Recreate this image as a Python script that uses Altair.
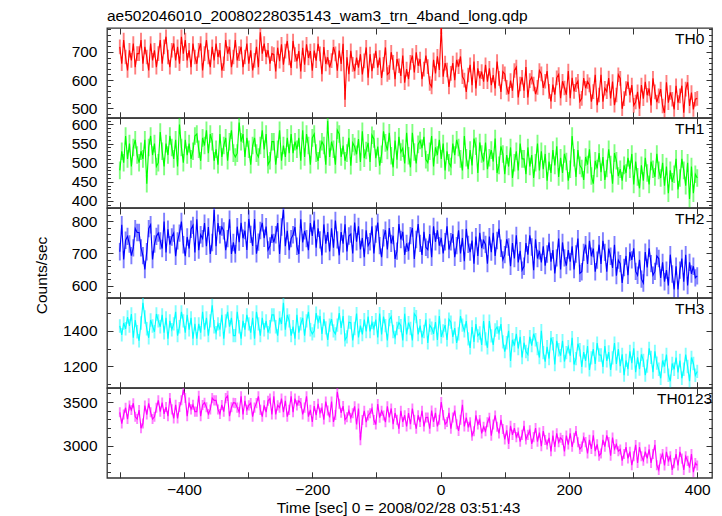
import altair as alt
import pandas as pd

title_text = "ae502046010_20080228035143_wam3_trn_4band_long.qdp"
x_title = "Time [sec] 0 = 2008/02/28 03:51:43"
y_title = "Counts/sec"
panel_names = ["TH0", "TH1", "TH2", "TH3", "TH0123"]
colors = ["#ff0000", "#00ff00", "#0000ff", "#00ffff", "#ff00ff"]
t_start = -500
t_step = 3
errors = [26, 23, 27, 38, 58]
x_domain = [-520, 423]
x_ticks = [-500, -400, -300, -200, -100, 0, 100, 200, 300, 400]
y_domains = [[466, 785], [382, 617], [562, 841], [1077, 1587], [2628, 3663]]
y_major = [[500, 600, 700], [400, 450, 500, 550, 600], [600, 700, 800], [1200, 1400], [3000, 3500]]
y_minor = [
    [480, 520, 540, 560, 580, 620, 640, 660, 680, 720, 740, 760, 780],
    [390, 410, 420, 430, 440, 460, 470, 480, 490, 510, 520, 530, 540, 560, 570, 580, 590, 610],
    [580, 620, 640, 660, 680, 720, 740, 760, 780, 820, 840],
    [1100, 1300, 1500],
    [2700, 2800, 2900, 3100, 3200, 3300, 3400, 3600],
]

th0 = [
    718, 658, 742, 682, 634, 706, 670, 730, 646, 694, 694, 742, 658, 718, 682, 634, 730, 670, 706, 646,
    694, 742, 658, 718, 754, 682, 646, 706, 730, 670, 718, 658, 754, 694, 742, 670, 706, 646, 730, 682,
    658, 706, 730, 634, 694, 742, 682, 646, 718, 670, 730, 682, 706, 634, 658, 742, 694, 718, 646, 682,
    742, 670, 694, 718, 646, 682, 730, 658, 706, 634, 670, 718, 646, 770, 694, 730, 682, 706, 658, 694,
    691, 631, 715, 667, 727, 655, 703, 739, 679, 643, 739, 691, 667, 703, 631, 715, 655, 727, 679, 703,
    633, 705, 669, 729, 693, 621, 717, 657, 681, 645, 669, 717, 693, 633, 705, 657, 729, 530, 681, 621,
    704, 656, 632, 680, 644, 692, 620, 668, 716, 608, 692, 632, 668, 704, 644, 680, 608, 656, 716, 620,
    627, 699, 663, 603, 675, 651, 615, 687, 591, 639, 603, 663, 687, 627, 699, 651, 675, 603, 639, 687,
    648, 588, 576, 672, 624, 684, 636, 790, 612, 660, 636, 576, 624, 660, 600, 672, 648, 684, 612, 600,
    558, 618, 654, 582, 666, 570, 642, 606, 630, 594, 654, 594, 642, 582, 618, 570, 666, 606, 558, 630,
    622, 574, 550, 598, 562, 634, 646, 538, 586, 610, 562, 646, 538, 598, 610, 586, 550, 574, 634, 622,
    572, 596, 632, 560, 524, 584, 548, 608, 620, 536, 596, 572, 548, 632, 536, 608, 560, 584, 596, 524,
    535, 607, 571, 595, 583, 523, 559, 619, 511, 547, 619, 523, 571, 559, 607, 535, 595, 511, 547, 619,
    606, 498, 534, 570, 594, 546, 582, 510, 522, 558, 498, 582, 534, 594, 546, 570, 510, 606, 558, 522,
    544, 568, 508, 484, 592, 520, 556, 532, 496, 580, 520, 544, 580, 484, 568, 592, 508, 556, 496, 532,
    535,
]

th1 = [
    480, 530, 500, 570, 510, 550, 490, 540, 560, 520, 500, 530, 510, 560, 445, 540, 570, 520, 550, 490,
    500, 580, 530, 490, 550, 520, 570, 540, 510, 560, 490, 600, 540, 500, 560, 520, 550, 510, 530, 570,
    575, 535, 505, 565, 545, 585, 525, 575, 555, 505, 535, 495, 575, 515, 545, 565, 505, 555, 585, 525,
    515, 525, 605, 555, 575, 515, 565, 535, 495, 545, 565, 525, 515, 545, 585, 535, 575, 495, 505, 555,
    555, 495, 535, 585, 505, 545, 515, 565, 525, 575, 525, 555, 535, 565, 505, 585, 515, 575, 545, 495,
    565, 575, 525, 505, 535, 555, 545, 495, 610, 515, 555, 535, 495, 585, 575, 515, 545, 505, 525, 565,
    492, 552, 542, 522, 562, 502, 582, 512, 532, 552, 502, 572, 562, 512, 542, 492, 522, 582, 552, 532,
    578, 518, 488, 558, 508, 568, 528, 538, 498, 578, 518, 488, 578, 528, 498, 548, 558, 538, 568, 508,
    500, 530, 570, 490, 540, 520, 560, 510, 550, 480, 530, 500, 490, 550, 520, 560, 540, 510, 480, 570,
    513, 483, 533, 493, 563, 543, 473, 553, 523, 503, 553, 483, 513, 533, 503, 563, 473, 493, 543, 523,
    470, 520, 490, 540, 460, 500, 530, 480, 550, 510, 510, 470, 540, 490, 520, 460, 500, 550, 480, 530,
    483, 523, 453, 503, 473, 533, 493, 543, 463, 513, 473, 523, 503, 453, 483, 570, 513, 463, 533, 493,
    485, 455, 515, 495, 535, 465, 445, 505, 485, 525, 475, 515, 455, 485, 535, 495, 445, 525, 505, 465,
    483, 453, 493, 473, 513, 483, 523, 443, 503, 463, 433, 493, 453, 513, 473, 443, 503, 483, 463, 523,
    480, 460, 500, 440, 490, 420, 480, 450, 470, 510, 430, 460, 510, 480, 440, 500, 405, 490, 420, 470,
    460,
]

th2 = [
    705, 789, 681, 741, 753, 729, 693, 717, 777, 765, 765, 717, 693, 650, 705, 777, 789, 681, 729, 753,
    763, 739, 715, 799, 703, 775, 727, 751, 763, 691, 739, 763, 799, 727, 691, 751, 715, 775, 787, 703,
    806, 710, 758, 746, 794, 722, 782, 698, 734, 835, 722, 794, 758, 782, 770, 710, 746, 806, 698, 734,
    699, 783, 735, 795, 747, 771, 711, 807, 759, 723, 807, 699, 735, 771, 795, 747, 783, 711, 723, 759,
    734, 758, 794, 698, 782, 835, 722, 770, 710, 746, 758, 782, 722, 698, 806, 734, 770, 746, 710, 794,
    754, 802, 718, 778, 742, 694, 790, 730, 766, 706, 778, 718, 802, 742, 694, 766, 730, 790, 706, 754,
    760, 700, 796, 736, 784, 712, 748, 688, 772, 724, 736, 784, 700, 760, 796, 724, 688, 748, 772, 712,
    779, 731, 755, 683, 707, 791, 743, 767, 695, 731, 707, 755, 779, 683, 743, 791, 731, 695, 767, 719,
    712, 760, 688, 784, 736, 772, 724, 748, 700, 736, 784, 712, 736, 760, 688, 724, 772, 700, 748, 676,
    776, 728, 704, 740, 668, 752, 692, 764, 716, 740, 728, 668, 752, 704, 764, 692, 740, 776, 716, 680,
    696, 744, 720, 660, 732, 684, 756, 672, 708, 648, 660, 732, 696, 756, 720, 648, 744, 684, 708, 672,
    722, 662, 698, 734, 674, 710, 638, 686, 746, 650, 734, 686, 662, 710, 674, 722, 650, 698, 746, 638,
    643, 703, 727, 667, 739, 691, 715, 643, 679, 727, 667, 739, 703, 643, 715, 691, 655, 727, 631, 679,
    668, 608, 656, 692, 632, 704, 680, 716, 644, 632, 680, 620, 608, 704, 656, 716, 668, 632, 644, 692,
    684, 624, 672, 612, 648, 600, 696, 636, 588, 660, 588, 648, 684, 612, 696, 600, 672, 636, 660, 624,
    630,
]

th3 = [
    1428, 1378, 1445, 1412, 1479, 1428, 1496, 1361, 1462, 1395, 1344, 1445, 1560, 1479, 1412, 1361, 1462, 1428, 1395, 1496,
    1457, 1424, 1491, 1390, 1474, 1356, 1457, 1407, 1440, 1508, 1373, 1424, 1508, 1457, 1390, 1491, 1407, 1474, 1356, 1440,
    1356, 1440, 1390, 1508, 1407, 1474, 1373, 1457, 1545, 1424, 1390, 1440, 1407, 1491, 1356, 1457, 1508, 1424, 1474, 1373,
    1373, 1508, 1424, 1356, 1457, 1407, 1491, 1440, 1390, 1474, 1356, 1508, 1440, 1373, 1474, 1407, 1457, 1390, 1424, 1491,
    1491, 1424, 1373, 1474, 1440, 1560, 1407, 1491, 1457, 1373, 1424, 1356, 1491, 1390, 1440, 1474, 1373, 1457, 1508, 1407,
    1383, 1400, 1501, 1450, 1484, 1383, 1467, 1417, 1349, 1433, 1467, 1400, 1383, 1433, 1501, 1417, 1484, 1349, 1366, 1450,
    1447, 1346, 1414, 1498, 1363, 1430, 1380, 1464, 1397, 1481, 1397, 1447, 1414, 1464, 1363, 1498, 1380, 1481, 1430, 1346,
    1464, 1481, 1397, 1363, 1414, 1447, 1430, 1346, 1498, 1380, 1447, 1414, 1346, 1498, 1481, 1380, 1430, 1363, 1397, 1464,
    1332, 1433, 1416, 1383, 1450, 1349, 1484, 1366, 1400, 1433, 1349, 1467, 1450, 1366, 1416, 1332, 1383, 1484, 1433, 1400,
    1456, 1355, 1304, 1422, 1338, 1439, 1372, 1388, 1321, 1456, 1355, 1304, 1456, 1372, 1321, 1405, 1422, 1388, 1439, 1338,
    1283, 1333, 1401, 1230, 1350, 1317, 1384, 1300, 1367, 1249, 1333, 1283, 1266, 1367, 1317, 1384, 1350, 1300, 1249, 1401,
    1277, 1226, 1310, 1243, 1361, 1327, 1209, 1344, 1293, 1260, 1344, 1226, 1277, 1310, 1260, 1361, 1209, 1243, 1327, 1293,
    1196, 1280, 1230, 1314, 1179, 1247, 1297, 1213, 1331, 1263, 1263, 1196, 1314, 1230, 1280, 1179, 1247, 1331, 1213, 1297,
    1200, 1267, 1149, 1233, 1183, 1284, 1217, 1301, 1166, 1250, 1183, 1267, 1233, 1149, 1200, 1301, 1250, 1166, 1284, 1217,
    1182, 1131, 1232, 1198, 1266, 1148, 1114, 1215, 1182, 1249, 1165, 1232, 1131, 1182, 1266, 1198, 1114, 1249, 1215, 1148,
    1170,
]

th0123 = [
    3383, 3253, 3357, 3435, 3305, 3461, 3409, 3487, 3331, 3305, 3409, 3200, 3253, 3461, 3357, 3487, 3383, 3305, 3331, 3435,
    3521, 3391, 3495, 3365, 3443, 3339, 3547, 3417, 3313, 3469, 3313, 3443, 3521, 3640, 3547, 3339, 3495, 3417, 3469, 3391,
    3390, 3572, 3338, 3468, 3494, 3442, 3364, 3416, 3546, 3520, 3520, 3416, 3364, 3468, 3390, 3546, 3572, 3338, 3442, 3494,
    3489, 3437, 3385, 3567, 3359, 3515, 3411, 3463, 3489, 3333, 3437, 3489, 3567, 3411, 3333, 3463, 3385, 3515, 3541, 3359,
    3567, 3359, 3463, 3437, 3541, 3385, 3515, 3333, 3411, 3567, 3385, 3541, 3463, 3515, 3489, 3359, 3437, 3567, 3333, 3411,
    3273, 3455, 3351, 3481, 3377, 3429, 3299, 3507, 3403, 3325, 3507, 3273, 3351, 3620, 3481, 3377, 3455, 3299, 3325, 3403,
    3321, 3373, 3451, 3243, 3425, 3060, 3295, 3399, 3269, 3347, 3373, 3425, 3295, 3243, 3477, 3321, 3399, 3347, 3269, 3451,
    3323, 3427, 3245, 3375, 3297, 3193, 3401, 3271, 3349, 3219, 3375, 3245, 3427, 3297, 3193, 3349, 3271, 3401, 3219, 3323,
    3324, 3194, 3402, 3272, 3376, 3220, 3298, 3500, 3350, 3246, 3272, 3376, 3194, 3324, 3402, 3246, 3168, 3298, 3470, 3220,
    3321, 3217, 3269, 3113, 3165, 3347, 3243, 3295, 3139, 3217, 3165, 3269, 3321, 3113, 3243, 3347, 3217, 3139, 3295, 3191,
    3071, 3175, 3019, 3227, 3123, 3201, 3097, 3149, 3045, 3123, 3227, 3071, 3123, 3175, 3019, 3097, 3201, 3045, 3149, 2993,
    3167, 3063, 3011, 3089, 2933, 3115, 2985, 3141, 3037, 3089, 3063, 2933, 3115, 3011, 3141, 2985, 3089, 3167, 3037, 2959,
    2987, 3091, 3039, 2909, 3065, 2961, 3117, 2935, 3013, 2883, 2909, 3065, 2987, 3117, 3039, 2883, 3091, 2961, 3013, 2935,
    2955, 2825, 2903, 2981, 2851, 2929, 2773, 2877, 3007, 2799, 2981, 2877, 2825, 2929, 2851, 2955, 2799, 2903, 3007, 2773,
    2719, 2849, 2901, 2771, 2927, 2823, 2875, 2719, 2797, 2901, 2771, 2927, 2849, 2719, 2875, 2823, 2745, 2901, 2693, 2797,
    2770,
]

series = [th0, th1, th2, th3, th0123]

FONT = "Liberation Sans"
FS = 15.5
W, H = 605, 89.8
label_x = [568, 568, 568, 568, 550]
TICK = "#333333"


def axis(**kw):
    base = dict(domain=False, grid=False, tickColor=TICK, tickWidth=1,
                labelFont=FONT, labelFontSize=FS, labelColor="black",
                titleFont=FONT, titleFontSize=FS, titleFontWeight="normal",
                titleColor="black")
    base.update(kw)
    return alt.Axis(**base)


def panel(k):
    vals = series[k]
    df = pd.DataFrame({"t": [t_start + t_step * i for i in range(len(vals))], "v": vals})
    df["lo"] = df["v"] - errors[k]
    df["hi"] = df["v"] + errors[k]
    xs = alt.Scale(domain=x_domain, nice=False, zero=False)
    ys = alt.Scale(domain=y_domains[k], nice=False, zero=False)
    last = k == len(series) - 1

    xb_kw = dict(orient="bottom", values=x_ticks, offset=-6, tickSize=6, labels=last,
                 labelExpr="datum.value % 200 === 0 ? datum.label : ''", labelPadding=5)
    if last:
        xb_kw.update(title=x_title, titleX=291, titlePadding=2)
    else:
        xb_kw.update(title=None)
    x_bottom = axis(**xb_kw)
    x_top = axis(orient="top", values=x_ticks, offset=-6, tickSize=6, labels=False, title=None)

    yl_kw = dict(orient="left", values=y_major[k], offset=-6, tickSize=6, labelPadding=10, format="d")
    if k == 2:
        yl_kw.update(title=y_title, titleX=-72, titleY=67, titleAngle=270,
                     titleAlign="center", titleBaseline="middle")
    else:
        yl_kw.update(title=None)
    y_left = axis(**yl_kw)
    y_right = axis(orient="right", values=y_major[k], offset=-6, tickSize=6, labels=False, title=None)
    y_left_minor = axis(orient="left", values=y_minor[k], offset=-3.5, tickSize=3.5, labels=False, title=None)
    y_right_minor = axis(orient="right", values=y_minor[k], offset=-3.5, tickSize=3.5, labels=False, title=None)

    base = alt.Chart(df)
    err = base.mark_rule(color=colors[k], opacity=0.5, strokeWidth=1.9, clip=True).encode(
        x=alt.X("t:Q", scale=xs, axis=x_bottom),
        y=alt.Y("lo:Q", scale=ys, axis=y_left),
        y2="hi:Q",
    )
    line = base.mark_line(color=colors[k], strokeWidth=1.15, clip=True).encode(
        x=alt.X("t:Q", scale=xs, axis=x_top),
        y=alt.Y("v:Q", scale=ys, axis=y_right),
    )
    ml = base.mark_line(strokeOpacity=0).encode(
        x=alt.X("t:Q", scale=xs, axis=None),
        y=alt.Y("v:Q", scale=ys, axis=y_left_minor),
    )
    mr = base.mark_line(strokeOpacity=0).encode(
        x=alt.X("t:Q", scale=xs, axis=None),
        y=alt.Y("v:Q", scale=ys, axis=y_right_minor),
    )
    lab = alt.Chart(pd.DataFrame({"name": [panel_names[k]]})).mark_text(
        align="left", baseline="alphabetic", font=FONT, fontSize=FS, color="black"
    ).encode(x=alt.value(label_x[k]), y=alt.value(16), text="name:N")

    layers = [err, line, ml, mr, lab]
    if k == 0:
        ttl = alt.Chart(pd.DataFrame({"name": [title_text]})).mark_text(
            align="left", baseline="alphabetic", font=FONT, fontSize=FS, color="black"
        ).encode(x=alt.value(0), y=alt.value(-7), text="name:N")
        layers.append(ttl)

    return alt.layer(*layers).resolve_axis(x="independent", y="independent").properties(
        width=W, height=H
    )


chart = alt.vconcat(*[panel(k) for k in range(len(series))], spacing=0, bounds="flush").properties(
    padding={"left": 25, "top": 0, "right": 0, "bottom": 0}
).configure_view(stroke="#333333", strokeWidth=1.3)

chart.save("out.html", embed_options={"renderer": "svg", "actions": False})
